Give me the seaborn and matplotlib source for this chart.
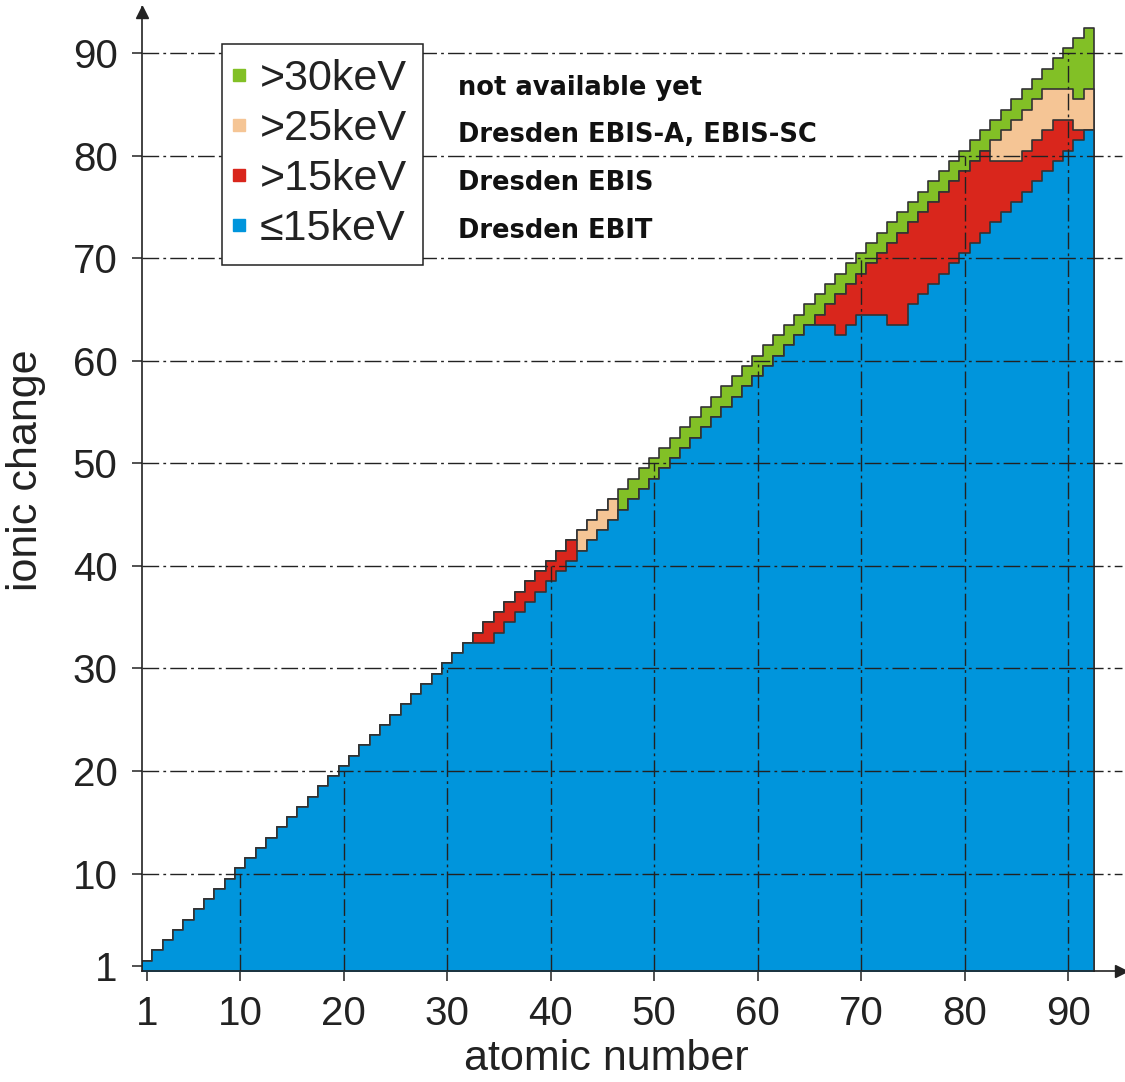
import matplotlib
matplotlib.use("Agg")
import matplotlib.pyplot as plt
from matplotlib.lines import Line2D
import numpy as np
import pandas as pd
import seaborn as sns

# Atomic numbers and the highest ionic charge reachable in each energy class
atomic_number = list(range(1, 93))

charge_le15 = [
    1, 2, 3, 4, 5, 6, 7, 8, 9, 10, 11, 12, 13, 14, 15, 16, 17, 18, 19, 20,
    21, 22, 23, 24, 25, 26, 27, 28, 29, 30, 31, 32,
    32,
    32, 33, 34, 35, 36, 37, 38, 39, 40, 41, 42, 43, 44, 45, 46, 47, 48, 49,
    50, 51, 52, 53, 54, 55, 56, 57, 58, 59, 60, 61, 62, 63,
    63, 63, 62, 63, 64, 64, 64, 63, 63,
    65, 66, 67, 68, 69, 70, 71, 72, 73, 74, 75, 76, 77, 78, 79, 80, 81, 82,
]

charge_gt15 = [
    1, 2, 3, 4, 5, 6, 7, 8, 9, 10, 11, 12, 13, 14, 15, 16, 17, 18, 19, 20,
    21, 22, 23, 24, 25, 26, 27, 28, 29, 30, 31, 32, 33, 34, 35, 36, 37, 38,
    39, 40, 41, 42,
    41, 42, 43, 44, 45, 46, 47, 48, 49, 50, 51, 52, 53, 54, 55, 56, 57, 58,
    59, 60, 61, 62, 63,
    64, 65, 66, 67, 68, 69, 70, 71, 72, 73, 74, 75, 76, 77, 78, 79, 80,
    79, 79, 79, 80, 81, 82, 83, 83, 82, 82,
]

charge_gt25 = [
    1, 2, 3, 4, 5, 6, 7, 8, 9, 10, 11, 12, 13, 14, 15, 16, 17, 18, 19, 20,
    21, 22, 23, 24, 25, 26, 27, 28, 29, 30, 31, 32, 33, 34, 35, 36, 37, 38,
    39, 40, 41, 42,
    43, 44, 45, 46,
    45, 46, 47, 48, 49, 50, 51, 52, 53, 54, 55, 56, 57, 58, 59, 60, 61, 62,
    63,
    64, 65, 66, 67, 68, 69, 70, 71, 72, 73, 74, 75, 76, 77, 78, 79, 80,
    81, 82, 83, 84, 85, 86, 86, 86, 85, 86,
]

charge_gt30 = [
    1, 2, 3, 4, 5, 6, 7, 8, 9, 10, 11, 12, 13, 14, 15, 16, 17, 18, 19, 20,
    21, 22, 23, 24, 25, 26, 27, 28, 29, 30, 31, 32, 33, 34, 35, 36, 37, 38,
    39, 40, 41, 42, 43, 44, 45, 46, 47, 48, 49, 50, 51, 52, 53, 54, 55, 56,
    57, 58, 59, 60, 61, 62, 63, 64, 65, 66, 67, 68, 69, 70, 71, 72, 73, 74,
    75, 76, 77, 78, 79, 80, 81, 82, 83, 84, 85, 86, 87, 88, 89, 90, 91, 92,
]

tick_values = [1, 10, 20, 30, 40, 50, 60, 70, 80, 90]
grid_values = [10, 20, 30, 40, 50, 60, 70, 80, 90]

legend_labels = [">30keV", ">25keV", ">15keV", "\u226415keV"]
source_labels = ["not available yet", "Dresden EBIS-A, EBIS-SC",
                 "Dresden EBIS", "Dresden EBIT"]

colors = {
    "gt30": "#82c026",
    "gt25": "#f5c595",
    "gt15": "#d9261c",
    "le15": "#0095dc",
}

df = pd.DataFrame({
    "Z": atomic_number,
    "gt30": charge_gt30,
    "gt25": charge_gt25,
    "gt15": charge_gt15,
    "le15": charge_le15,
})

sns.set_theme(style="white")
plt.rcParams["font.family"] = ["Liberation Sans", "DejaVu Sans"]

W, H = 1125, 1082
fig = plt.figure(figsize=(W / 100, H / 100), dpi=100)
ax = fig.add_axes([142 / W, (H - 971) / H, (W - 142) / W, (971 - 7) / H])

edge = "#333333"
# each charge state occupies a unit cell, so the top edge sits at q + 0.5
for key in ["gt30", "gt25", "gt15", "le15"]:
    sns.histplot(
        data=df, x="Z", weights=df[key] + 0.5, discrete=True,
        element="step", fill=True, color=colors[key], alpha=1,
        edgecolor=edge, linewidth=1.2, ax=ax, zorder=2,
    )

ax.set_xlim(0.5, 95.5)
ax.set_ylim(0.5, 94.5)

grid_style = dict(color="#222222", linewidth=1.0, linestyles=[(0, (12, 3, 2, 3))],
                  zorder=3)
ax.hlines(grid_values, 0.5, 95.2, **grid_style)
ax.vlines(grid_values, 0.5, grid_values, **grid_style)

ax.set_xticks(tick_values)
ax.set_yticks(tick_values)
ax.tick_params(axis="both", direction="out", length=7.5, width=1.1,
               colors="#222222", labelsize=29, pad=10,
               bottom=True, left=True)
for s in ["top", "right"]:
    ax.spines[s].set_visible(False)
for s in ["left", "bottom"]:
    ax.spines[s].set_color("#222222")
    ax.spines[s].set_linewidth(1.2)

# arrow heads on the axes
ax.plot(95.1, 0.5, marker=">", color="#222222", markersize=9, clip_on=False,
        zorder=5)
ax.plot(0.5, 94.0, marker="^", color="#222222", markersize=9, clip_on=False,
        zorder=5)

ax.set_xlabel("atomic number", fontsize=31, color="#222222")
ax.set_ylabel("ionic change", fontsize=31, color="#222222")
ax.xaxis.set_label_coords(0.472, -0.071)
ax.yaxis.set_label_coords(-0.098, 0.52)

handles = [
    Line2D([], [], linestyle="none", marker="s", markersize=9,
           markerfacecolor=colors[k], markeredgecolor=colors[k])
    for k in ["gt30", "gt25", "gt15", "le15"]
]
leg = ax.legend(handles, legend_labels, loc="upper left",
                bbox_to_anchor=(222 / W, (H - 44) / H),
                bbox_transform=fig.transFigure, borderaxespad=0,
                fontsize=31, frameon=True, fancybox=False, framealpha=1,
                edgecolor="#222222", borderpad=0.36, labelspacing=0.23,
                handlelength=0.07, handletextpad=0.45)
leg.get_frame().set_linewidth(1.1)
for t in leg.get_texts():
    t.set_color("#222222")

for label, yc in zip(source_labels, [88, 135, 183, 231]):
    fig.text(458 / W, (H - yc) / H, label, ha="left", va="center",
             fontsize=18.5, fontweight="bold", family="DejaVu Sans",
             color="#111111")

fig.savefig("out.png", dpi=100)
